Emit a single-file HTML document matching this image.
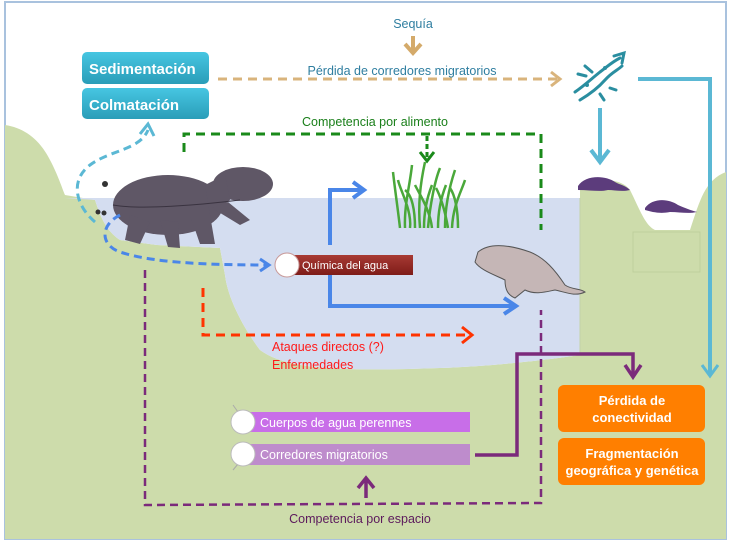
<!DOCTYPE html>
<html><head><meta charset="utf-8"><style>
html,body{margin:0;padding:0;background:#fff;}
svg{display:block;}
text{font-family:"Liberation Sans",sans-serif;}
</style></head><body>
<svg width="735" height="549" viewBox="0 0 735 549" xmlns="http://www.w3.org/2000/svg">
<defs>
<linearGradient id="teal" x1="0" y1="0" x2="0" y2="1"><stop offset="0" stop-color="#46c6e2"/><stop offset="1" stop-color="#2a9db8"/></linearGradient>
<linearGradient id="red" x1="0" y1="0" x2="0" y2="1"><stop offset="0" stop-color="#a83a34"/><stop offset="1" stop-color="#7e1c18"/></linearGradient>
</defs>
<rect x="0" y="0" width="735" height="549" fill="#fff"/>
<rect x="5" y="2" width="721" height="537" fill="#fff" stroke="#a9c2de" stroke-width="2"/>
<path d="M5,125 C25,128 40,140 50,160 C58,175 62,188 65,195 L95,200 C100,215 105,230 120,240 L157,245 L220,248 L225,275 C228,300 245,330 260,350 C285,368 330,372 440,368 C500,366 560,358 580,355 L580,190 C590,178 620,176 630,190 C640,210 645,225 655,230 L690,230 C700,200 705,180 726,172 L726,539 L5,539 Z" fill="#cddcab"/>
<path d="M65,198 L580,198 L580,355 C560,358 500,366 440,368 C330,372 285,368 260,350 C245,330 228,300 225,275 L220,248 L157,245 L120,240 C105,230 100,215 95,200 Z" fill="#d4ddf0"/>
<rect x="633" y="232" width="67" height="40" fill="#cddcab" stroke="#bfcf9c" stroke-width="1"/>
<line x1="580" y1="198" x2="580" y2="355" stroke="#c4d2a8" stroke-width="1"/>

<rect x="82" y="52" width="127" height="32" rx="5" fill="url(#teal)"/>
<text x="89" y="74" font-size="15" font-weight="bold" fill="#fff">Sedimentación</text>
<rect x="82" y="88" width="127" height="31" rx="5" fill="url(#teal)"/>
<text x="89" y="110" font-size="15" font-weight="bold" fill="#fff">Colmatación</text>

<text x="413" y="28" font-size="12.5" fill="#2f7ea0" text-anchor="middle">Sequía</text>
<path d="M413,36 L413,52 M405,44 L413,53 L421,44" stroke="#d4aa6a" stroke-width="4" fill="none"/>
<text x="402" y="75" font-size="12.5" fill="#2f7ea0" text-anchor="middle">Pérdida de corredores migratorios</text>
<path d="M218,79 L560,79" stroke="#d9b47c" stroke-width="3" stroke-dasharray="9,6" fill="none"/>
<path d="M551,72 L560,79 L551,86" stroke="#d9b47c" stroke-width="3" fill="none"/>

<g stroke="#2a8ea0" stroke-width="3" fill="none" stroke-linecap="round">
<path d="M575,92 C585,85 590,80 600,72 C608,66 612,62 620,58"/>
<path d="M580,100 C590,94 598,88 605,80 C612,72 618,70 622,66"/>
<path d="M614,56 L624,53 L622,63"/>
<path d="M585,66 L592,72 M578,74 L586,76 M600,94 L604,100 M610,88 L616,90"/>
</g>
<circle cx="587" cy="85" r="2" fill="#2a8ea0"/><circle cx="605" cy="68" r="2" fill="#2a8ea0"/>

<path d="M638,79 L710,79 L710,375" stroke="#5bb8d4" stroke-width="4" fill="none"/>
<path d="M702,365 L710,376 L718,365" stroke="#5bb8d4" stroke-width="3" fill="none"/>
<path d="M600,108 L600,160 M591,150 L600,162 L609,150" stroke="#5bb8d4" stroke-width="4" fill="none"/>

<path d="M578,186 C585,175 605,175 615,182 C620,185 625,185 630,190 C622,192 615,190 608,190 C600,192 590,190 578,190 Z" fill="#5c3c7c"/>
<path d="M645,208 C652,198 668,198 678,205 C685,208 690,210 697,212 C688,214 680,212 670,212 C660,214 652,212 645,210 Z" fill="#5c3c7c"/>

<text x="375" y="126" font-size="12.5" fill="#1a7f1a" text-anchor="middle">Competencia por alimento</text>
<path d="M184,152 L184,134 L541,134 L541,230" stroke="#1a8a1a" stroke-width="3" stroke-dasharray="9,6" fill="none"/>
<path d="M427,136 L427,160" stroke="#1a8a1a" stroke-width="3" stroke-dasharray="5,3" fill="none"/>
<path d="M420,152 L427,161 L434,152" stroke="#1a8a1a" stroke-width="3" fill="none"/>

<g stroke="#4aa83a" stroke-width="2.5" fill="none">
<path d="M400,228 C398,210 395,190 393,172"/><path d="M405,228 C404,205 410,185 412,165"/><path d="M410,228 C412,210 400,190 398,180"/>
<path d="M420,228 C418,205 420,185 425,162"/><path d="M428,228 C430,205 435,180 440,168"/><path d="M432,228 C430,210 420,195 415,185"/>
<path d="M445,228 C445,205 450,185 455,170"/><path d="M452,228 C453,205 462,190 465,180"/><path d="M448,228 C445,210 440,195 436,188"/>
<path d="M415,228 C415,210 412,195 405,190"/><path d="M458,228 C458,210 455,195 450,188"/>
<path d="M424,228 C424,210 428,195 432,185"/><path d="M438,228 C438,210 442,195 446,185"/>
</g>

<g fill="#5f5766">
<ellipse cx="168" cy="205" rx="55" ry="30"/>
<ellipse cx="243" cy="184" rx="30" ry="17"/>
<path d="M205,185 L225,175 L230,200 L210,215 Z"/>
<path d="M130,215 L125,240 L140,244 L150,222 Z M190,215 L200,244 L215,244 L210,215 Z M212,208 L240,225 L250,220 L228,202 Z M160,220 L168,247 L180,248 L178,222 Z"/>
</g>
<path d="M113,205 C140,210 200,205 240,200" stroke="#3a3340" stroke-width="1" fill="none"/>
<circle cx="105" cy="184" r="3" fill="#333"/><circle cx="98" cy="212" r="2.5" fill="#333"/><circle cx="104" cy="213" r="2.5" fill="#333"/>

<path d="M95,222 C75,205 70,180 90,165 C110,150 140,150 148,130" stroke="#5bb8d4" stroke-width="3" stroke-dasharray="8,5" fill="none"/>
<path d="M140,134 L148,124 L154,136" stroke="#5bb8d4" stroke-width="3" fill="none"/>
<path d="M120,215 C100,225 100,245 120,252 C150,262 200,265 268,265" stroke="#4a86e8" stroke-width="3" stroke-dasharray="8,5" fill="none"/>
<path d="M260,259 L269,265 L260,271" stroke="#4a86e8" stroke-width="3" fill="none"/>

<path d="M330,245 L330,190 L362,190" stroke="#4a86e8" stroke-width="4" fill="none"/>
<path d="M353,182 L364,190 L353,198" stroke="#4a86e8" stroke-width="4" fill="none"/>
<path d="M330,270 L330,306 L514,306" stroke="#4a86e8" stroke-width="4" fill="none"/>
<path d="M504,298 L516,306 L504,314" stroke="#4a86e8" stroke-width="4" fill="none"/>

<rect x="290" y="255" width="123" height="20" fill="url(#red)"/>
<circle cx="287" cy="265" r="12" fill="#fff" stroke="#c89a9a" stroke-width="1"/>
<text x="302" y="269" font-size="11" fill="#fff">Química del agua</text>

<path d="M478,252 C490,242 510,245 530,252 C545,258 555,270 565,285 C572,290 580,288 585,292 C575,297 565,292 555,290 C545,292 535,295 525,290 L515,298 C508,295 505,290 505,280 C495,275 480,270 475,262 Z" fill="#c5b6b6" stroke="#555" stroke-width="1"/>

<path d="M203,288 L203,335 L470,335" stroke="#ff3300" stroke-width="3" stroke-dasharray="9,6" fill="none"/>
<path d="M462,327 L472,335 L462,343" stroke="#ff3300" stroke-width="3" fill="none"/>
<text x="272" y="351" font-size="12.5" fill="#ff1a1a">Ataques directos (?)</text>
<text x="272" y="369" font-size="12.5" fill="#ff1a1a">Enfermedades</text>

<path d="M145,270 L145,505 L541,503 L541,310" stroke="#7b2a7b" stroke-width="2.5" stroke-dasharray="8,5" fill="none"/>
<path d="M366,498 L366,480 M358,488 L366,478 L374,488" stroke="#7b2a7b" stroke-width="3.5" fill="none"/>
<text x="360" y="523" font-size="12.5" fill="#5c1a5c" text-anchor="middle">Competencia por espacio</text>

<path d="M475,455 L517,455 L517,354 L633,354 L633,375" stroke="#7b2a7b" stroke-width="3.5" fill="none"/>
<path d="M625,365 L633,377 L641,365" stroke="#7b2a7b" stroke-width="3.5" fill="none"/>

<rect x="240" y="412" width="230" height="20" fill="#c86ee8"/>
<rect x="240" y="444" width="230" height="21" fill="#be8ccc"/>
<line x1="233" y1="405" x2="238" y2="412" stroke="#aaa"/><line x1="233" y1="470" x2="238" y2="464" stroke="#aaa"/>
<circle cx="243" cy="422" r="12" fill="#fff" stroke="#bbb"/>
<circle cx="243" cy="454" r="12" fill="#fff" stroke="#bbb"/>
<text x="260" y="427" font-size="12.5" fill="#fff">Cuerpos de agua perennes</text>
<text x="260" y="459" font-size="12.5" fill="#fff">Corredores migratorios</text>

<rect x="558" y="385" width="147" height="47" rx="6" fill="#ff7f00"/>
<text x="632" y="405" font-size="13" font-weight="bold" fill="#fff" text-anchor="middle">Pérdida de</text>
<text x="632" y="422" font-size="13" font-weight="bold" fill="#fff" text-anchor="middle">conectividad</text>
<rect x="558" y="438" width="147" height="47" rx="6" fill="#ff7f00"/>
<text x="632" y="458" font-size="13" font-weight="bold" fill="#fff" text-anchor="middle">Fragmentación</text>
<text x="632" y="475" font-size="13" font-weight="bold" fill="#fff" text-anchor="middle">geográfica y genética</text>
</svg>
</body></html>
